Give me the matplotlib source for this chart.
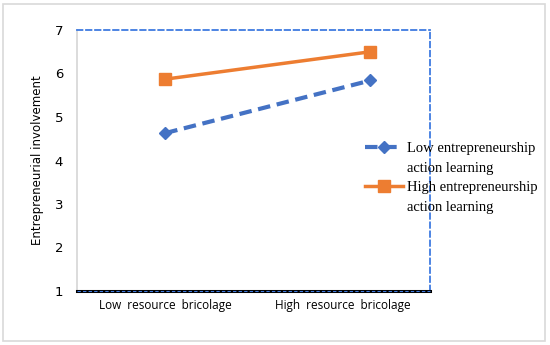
import matplotlib.pyplot as plt
from matplotlib.patches import Rectangle
from matplotlib.lines import Line2D

categories = ['Low resource bricolage', 'High resource bricolage']
low_eal = [4.63, 5.84]
high_eal = [5.87, 6.50]
series_names = [['Low entrepreneurship', 'action learning'],
                ['High entrepreneurship', 'action learning']]
y_ticks = [1, 2, 3, 4, 5, 6, 7]

blue = '#4472C4'
orange = '#ED7D31'
border_blue = '#3F7BE0'

fig = plt.figure(figsize=(5.5, 3.45), dpi=100)
# light gray frame around the whole chart
fig.patches.append(Rectangle((0.006, 0.012), 0.985, 0.977, transform=fig.transFigure,
                             fill=False, edgecolor='#d9d9d9', linewidth=1.2))

ax = fig.add_axes([77 / 550, 1 - 291 / 345, (430 - 77) / 550, (291 - 30) / 345])

x = [0, 1]
l1, = ax.plot(x, low_eal, color=blue, linestyle=(0, (3, 1.6)), linewidth=3,
              marker='D', markersize=6)
l2, = ax.plot(x, high_eal, color=orange, linestyle='-', linewidth=2.5,
              marker='s', markersize=8)

ax.set_xlim(-0.43, 1.29)
ax.set_ylim(1, 7)
ax.set_yticks(y_ticks)
ax.tick_params(axis='y', length=0, labelsize=9.5, pad=10)
ax.set_xticks([0, 0.865])
ax.set_xticklabels(['  '.join(c.split(' ')) for c in categories], fontsize=8.5)
ax.tick_params(axis='x', length=0, pad=6)
for lab in ax.get_xticklabels():
    lab.set_fontfamily('Open Sans')

# borders
for side in ['top', 'right']:
    ax.spines[side].set_color(border_blue)
    ax.spines[side].set_linestyle((0, (3, 2)))
    ax.spines[side].set_linewidth(1.3)
ax.spines['left'].set_color('#d9d9d9')
ax.spines['left'].set_linewidth(1.3)
ax.spines['bottom'].set_color('black')
ax.spines['bottom'].set_linewidth(2.2)
ax.axhline(1, color=border_blue, linestyle=(0, (3, 2)), linewidth=0.8, zorder=5, clip_on=False)

ax.set_ylabel('Entrepreneurial involvement', fontsize=8.5, labelpad=8)

blank = Line2D([], [], linestyle='none')
ax.legend([l1, blank, l2, blank],
          [series_names[0][0], series_names[0][1], series_names[1][0], series_names[1][1]],
          loc='upper left', bbox_to_anchor=(0.795, 0.6), frameon=False,
          prop={'family': 'Liberation Serif', 'size': 10.5}, handlelength=2.6,
          labelspacing=0.45, handletextpad=0.3, borderpad=0)

fig.savefig('out.png', dpi=100)
